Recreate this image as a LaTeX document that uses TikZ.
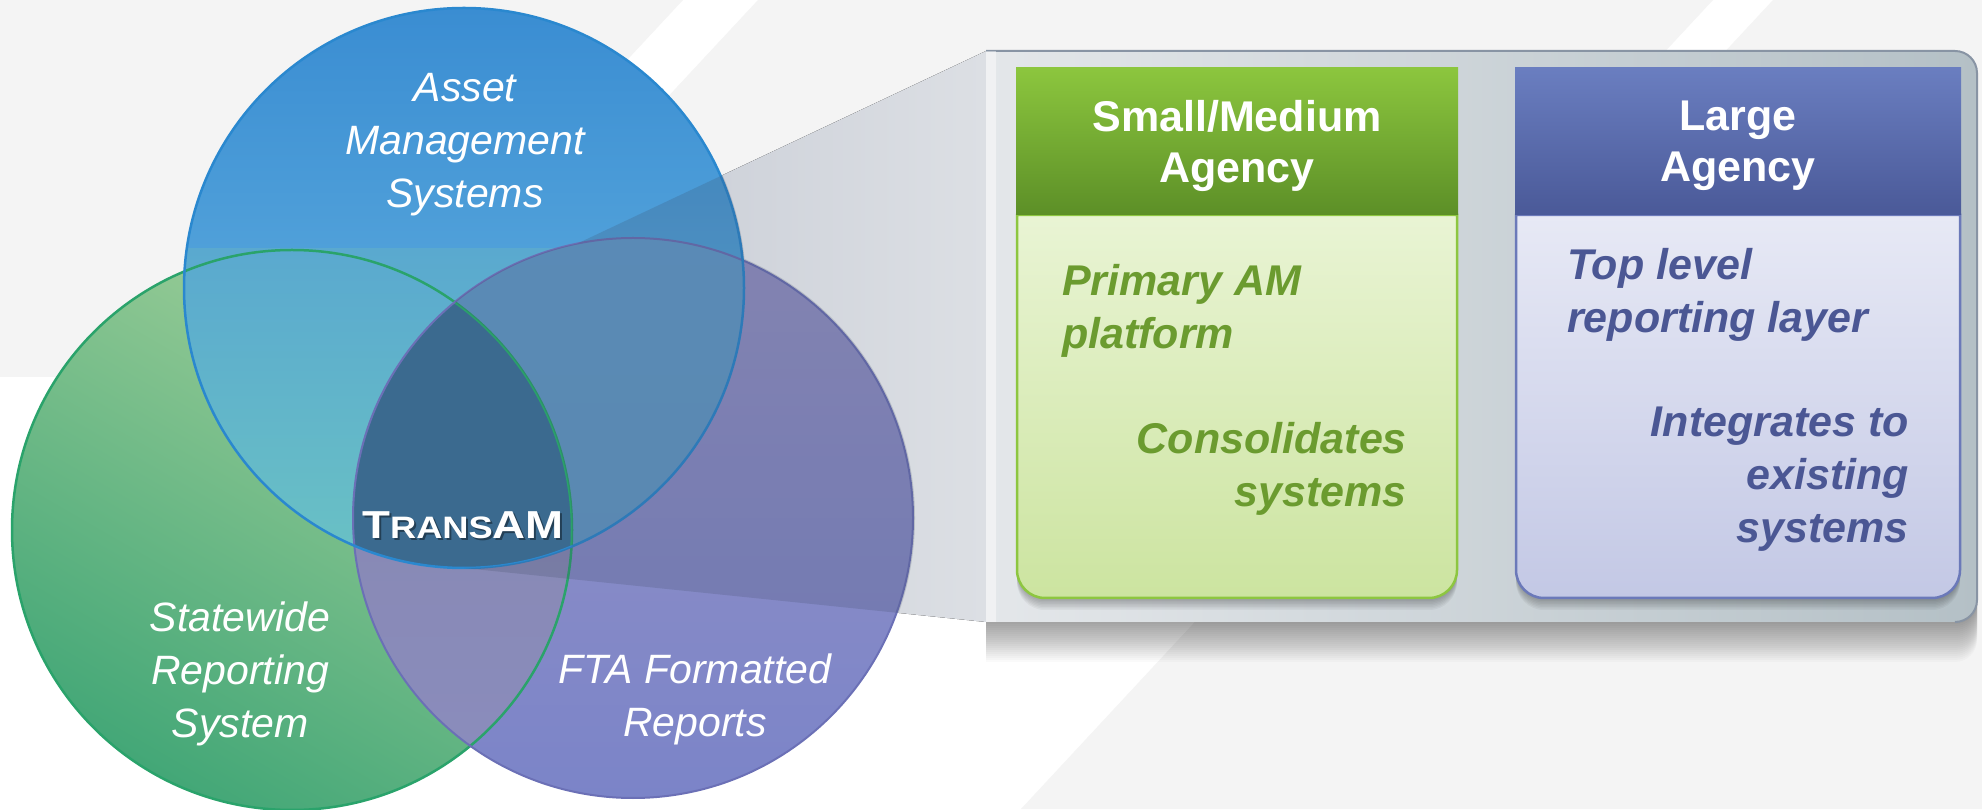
\documentclass[tikz,border=0pt]{standalone}
\usepackage{fontspec}
\setmainfont{Liberation Sans}
\usetikzlibrary{calc}
\definecolor{bggray}{HTML}{F4F4F4}
\definecolor{gTop}{HTML}{A3D09A}
\definecolor{gBot}{HTML}{43A777}
\definecolor{pTop}{HTML}{9693C6}
\definecolor{pBot}{HTML}{7B84C8}
\definecolor{bTop}{HTML}{3A8DD2}
\definecolor{bBot}{HTML}{6CB9E3}
\definecolor{bgTop}{HTML}{5AA9CF}
\definecolor{bgBot}{HTML}{6AC2C4}
\definecolor{bpTop}{HTML}{629CCC}
\definecolor{bpBot}{HTML}{6399C6}
\definecolor{gpTop}{HTML}{8686AE}
\definecolor{gpBot}{HTML}{8A8CBC}
\definecolor{ctr}{HTML}{3B6A8F}
\definecolor{gLine}{HTML}{2AA36B}
\definecolor{pLine}{HTML}{6B70B6}
\definecolor{bLine}{HTML}{2A88CF}
\definecolor{wOver}{HTML}{3A465E}
\definecolor{wL}{HTML}{C2C7D1}
\definecolor{wR}{HTML}{DCDFE4}
\definecolor{panL}{HTML}{E4E7EA}
\definecolor{panR}{HTML}{B4C0C6}
\definecolor{panLine}{HTML}{8894A4}
\definecolor{ghTop}{HTML}{8CC63E}
\definecolor{ghBot}{HTML}{5C8F27}
\definecolor{gbTop}{HTML}{E9F4D4}
\definecolor{gbBot}{HTML}{CCE4A0}
\definecolor{gBorder}{HTML}{8DC640}
\definecolor{bhTop}{HTML}{6A7EC0}
\definecolor{bhBot}{HTML}{4A5998}
\definecolor{bbTop}{HTML}{E7E9F5}
\definecolor{bbBot}{HTML}{C3C8E5}
\definecolor{bBorder}{HTML}{6B79B9}
\definecolor{gText}{HTML}{6B9B2F}
\definecolor{bText}{HTML}{4B5794}
\tikzset{
  circtext/.style={text=white, inner sep=0pt, align=center,
    font=\fontsize{41}{53}\selectfont\itshape},
  headtext/.style={text=white, inner sep=0pt, align=center,
    font=\fontsize{43}{51}\selectfont\bfseries},
  gbodytext/.style={text=gText, inner sep=0pt,
    font=\fontsize{43}{53}\selectfont\bfseries\itshape},
  bbodytext/.style={text=bText, inner sep=0pt,
    font=\fontsize{43}{53}\selectfont\bfseries\itshape},
}
\newcommand{\tamtext}{\scalebox{1.17}[1]{\bfseries{\fontsize{39}{39}\selectfont T}{\fontsize{31}{31}\selectfont RANS}{\fontsize{39}{39}\selectfont AM}}}
\begin{document}
\begin{tikzpicture}[x=1pt,y=1pt]
\useasboundingbox (0,0) rectangle (1982,809);
% background
\fill[white] (0,0) rectangle (1982,809);
\fill[bggray] (0,809) -- (683,809) -- (332,432) -- (0,432) -- cycle;
\fill[bggray] (758,809) -- (1713,809) -- (1362,432) -- (407,432) -- cycle;
\fill[bggray] (1773,809) -- (1982,809) -- (1982,0) -- (1021,0) -- cycle;

\def\R{280}
\coordinate (B) at (464,521);
\coordinate (G) at (292,279);
\coordinate (P) at (633,291);
\coordinate (T) at ($(P)+(129.6:\R)$);
\coordinate (PTL) at (986,758);
\coordinate (PBL) at (986,187);
\coordinate (Bs) at ($(B)+(-90:\R)$);
\def\wedgepath{(T) arc[start angle=129.6, end angle=101.5, radius=\R] -- (PTL) -- (PBL) -- (Bs)
  arc[start angle=-90, end angle=-67.4, radius=\R]
  arc[start angle=-3.4, end angle=54.5, radius=\R] -- cycle}

% callout wedge (opaque part behind the circles)
\fill[left color=wL, right color=wR] \wedgepath;

% circle fills
\fill[top color=gTop, bottom color=gBot, shading angle=-30] (G) circle[radius=\R];
\fill[top color=pTop, bottom color=pBot] (P) circle[radius=\R];
\fill[top color=bTop, bottom color=bBot] (B) circle[radius=\R];
% lenses
\begin{scope}
  \clip (B) circle[radius=\R];
  \fill[top color=bgTop, bottom color=bgBot] (180,241) rectangle (575,560);
\end{scope}
\begin{scope}
  \clip (B) circle[radius=\R];
  \clip (P) circle[radius=\R];
  \fill[top color=bpTop, bottom color=bpBot] (350,241) rectangle (745,572);
\end{scope}
\begin{scope}
  \clip (G) circle[radius=\R];
  \clip (P) circle[radius=\R];
  \fill[top color=gpTop, bottom color=gpBot] (350,60) rectangle (575,510);
\end{scope}
\begin{scope}
  \clip (B) circle[radius=\R];
  \clip (G) circle[radius=\R];
  \fill[ctr] (P) circle[radius=\R];
\end{scope}
% outlines
\draw[gLine, line width=2.5] (G) circle[radius=\R];
\draw[pLine, line width=2] (P) circle[radius=\R];
\draw[bLine, line width=2.5] (B) circle[radius=\R];

% callout wedge (translucent part over the circles)
\begin{scope}
  \clip (B) circle[radius=\R+2] (G) circle[radius=\R+2] (P) circle[radius=\R+2];
  \fill[wOver, fill opacity=0.2] \wedgepath;
\end{scope}

% panel shadow
\foreach \k in {1,...,20}{
  \fill[black, fill opacity=0.02] (986,{187-2*\k}) -- ({1977-22},{187-2*\k})
    arc[start angle=-90, end angle=0, radius=22] -- (1977,{758-22-2*\k}) -- (986,{758-22-2*\k}) -- cycle;
}
% panel
\fill[left color=panL, right color=panR] (986,187) -- (1955,187)
  arc[start angle=-90, end angle=0, radius=22] -- (1977,736)
  arc[start angle=0, end angle=90, radius=22] -- (986,758) -- cycle;
\draw[panLine, line width=2] (986,758) -- (1955,758) arc[start angle=90, end angle=0, radius=22] -- (1977,209)
  arc[start angle=0, end angle=-90, radius=22];
\fill[white, fill opacity=0.45] (986,187) rectangle (996,758);

% box shadows
\foreach \k in {1,...,8}{
  \fill[black, fill opacity=0.04] (1017,{594-1.5*\k}) -- (1017,{239-1.5*\k}) arc[start angle=180, end angle=270, radius=28]
    -- (1429,{211-1.5*\k}) arc[start angle=270, end angle=360, radius=28] -- (1457,{594-1.5*\k}) -- cycle;
  \fill[black, fill opacity=0.04] (1516,{594-1.5*\k}) -- (1516,{239-1.5*\k}) arc[start angle=180, end angle=270, radius=28]
    -- (1932,{211-1.5*\k}) arc[start angle=270, end angle=360, radius=28] -- (1960,{594-1.5*\k}) -- cycle;
}
% green box
\filldraw[top color=gbTop, bottom color=gbBot, draw=gBorder, line width=2.5]
  (1017,594) -- (1017,239) arc[start angle=180, end angle=270, radius=28]
  -- (1429,211) arc[start angle=270, end angle=360, radius=28] -- (1457,594) -- cycle;
\fill[top color=ghTop, bottom color=ghBot] (1016,594) rectangle (1458,741);
% blue box
\filldraw[top color=bbTop, bottom color=bbBot, draw=bBorder, line width=2.5]
  (1516,594) -- (1516,239) arc[start angle=180, end angle=270, radius=28]
  -- (1932,211) arc[start angle=270, end angle=360, radius=28] -- (1960,594) -- cycle;
\fill[top color=bhTop, bottom color=bhBot] (1515,594) rectangle (1961,741);

% texts
\node[circtext] (ams) at (465,664) {Asset\\Management\\Systems};
\node[circtext] (srs) at (240,135) {Statewide\\Reporting\\System};
\node[circtext] (fta) at (695,110) {FTA Formatted\\Reports};
\node[text=black, text opacity=0.4, inner sep=0pt] (tamshadow) at (465,282) {\tamtext};
\node[text=white, inner sep=0pt] (transam) at (463,284) {\tamtext};

\node[headtext] (smhead) at (1237,663) {Small/Medium\\Agency};
\node[headtext] (lghead) at (1738,663) {Large\\Agency};
\node[gbodytext, anchor=west, align=left] (prim) at (1062,498) {Primary AM\\platform};
\node[gbodytext, anchor=east, align=right] (cons) at (1407,340) {Consolidates\\systems};
\node[bbodytext, anchor=west, align=left] (top) at (1567,514) {Top level\\reporting layer};
\node[bbodytext, anchor=east, align=right] (integ) at (1909,330) {Integrates to\\existing\\systems};
\end{tikzpicture}
\end{document}
